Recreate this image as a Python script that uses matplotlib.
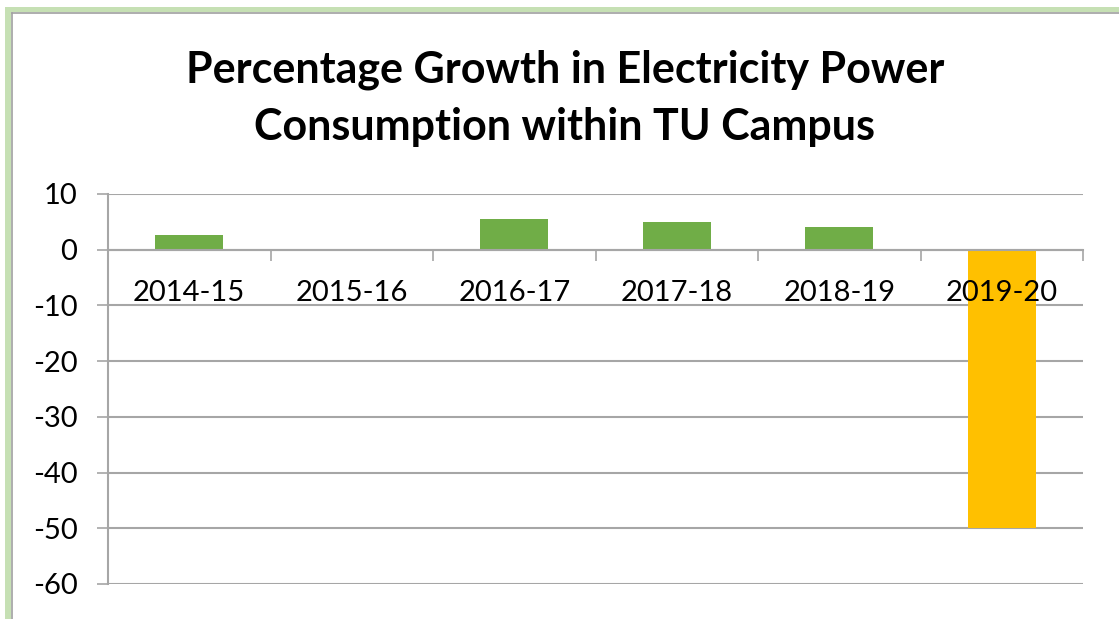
import matplotlib
matplotlib.use("Agg")
import matplotlib.pyplot as plt
from matplotlib.patches import Rectangle
from matplotlib.lines import Line2D

plt.rcParams["axes.unicode_minus"] = False

categories = ["2014-15", "2015-16", "2016-17", "2017-18", "2018-19", "2019-20"]
values = [2.7, 0.0, 5.5, 5.0, 4.0, -50.0]
colors = ["#70AD47", "#70AD47", "#70AD47", "#70AD47", "#70AD47", "#FFC000"]
yticks = [10, 0, -10, -20, -30, -40, -50, -60]
title_lines = ["Percentage Growth in Electricity Power", "Consumption within TU Campus"]

W, H = 1119, 619
fig = plt.figure(figsize=(W / 100, H / 100), dpi=100)
fig.patch.set_facecolor("white")

# green frame (top + left) with gray inner edge
fig.add_artist(Rectangle((5 / W, 1 - 12 / H), 1, 5 / H, transform=fig.transFigure,
                         facecolor="#C6E0B4", edgecolor="none"))
fig.add_artist(Rectangle((5 / W, 0), 6 / W, 1 - 7 / H, transform=fig.transFigure,
                         facecolor="#C6E0B4", edgecolor="none"))
fig.add_artist(Line2D([11.5 / W, 1], [1 - 12.5 / H, 1 - 12.5 / H], transform=fig.transFigure,
                      color="#A0A0A0", lw=1.2))
fig.add_artist(Line2D([11.5 / W, 11.5 / W], [0, 1 - 12.5 / H], transform=fig.transFigure,
                      color="#A0A0A0", lw=1.2))

left, right, top, bottom = 108, 1083, 194, 584
ax = fig.add_axes([left / W, 1 - bottom / H, (right - left) / W, (bottom - top) / H])

x = list(range(len(categories)))
ax.bar(x, values, width=0.42, color=colors, zorder=3)

ax.set_xlim(-0.5, len(categories) - 0.5)
ax.set_ylim(-60, 10)
ax.set_yticks(yticks)
ax.grid(axis="y", color="#A6A6A6", lw=1.5, zorder=0)
ax.set_axisbelow(True)

for s in ["top", "right"]:
    ax.spines[s].set_visible(False)
ax.spines["left"].set_color("#A6A6A6")
ax.spines["left"].set_linewidth(1.5)
ax.spines["bottom"].set_position(("data", 0))
ax.spines["bottom"].set_color("#A6A6A6")
ax.spines["bottom"].set_linewidth(1.5)
ax.spines["bottom"].set_zorder(4)

font = "Lato"
ax.tick_params(axis="y", length=8, width=1.2, color="#A6A6A6", pad=14,
               labelsize=21, labelcolor="black")
for lab in ax.get_yticklabels():
    lab.set_fontfamily(font)

# category boundary ticks on the zero axis, labels under the axis
ax.set_xticks([i + 0.5 for i in range(len(categories))])
ax.tick_params(axis="x", direction="out", length=8, width=1.2, color="#A6A6A6",
               labelbottom=False)
for i, c in enumerate(categories):
    ax.annotate(c, xy=(i, 0), xycoords="data", xytext=(0, -31), textcoords="offset points",
                ha="center", va="center", fontsize=21, family=font, color="black", zorder=5)

fig.text(565 / W, 1 - 70 / H, title_lines[0], ha="center", va="center",
         fontsize=31, fontweight="bold", family=font)
fig.text(565 / W, 1 - 127 / H, title_lines[1], ha="center", va="center",
         fontsize=31, fontweight="bold", family=font)

fig.savefig("out.png", dpi=100, facecolor="white")
